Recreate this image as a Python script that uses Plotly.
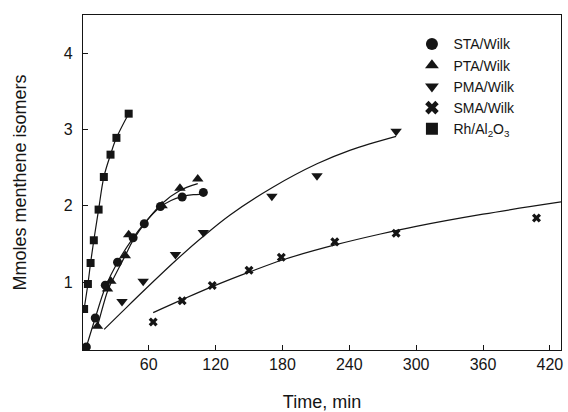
import plotly.graph_objects as go

# ---- data ----
sta_t = [4, 12, 21, 32, 46, 56, 70.5, 90, 109]
sta_v = [0.15, 0.53, 0.96, 1.26, 1.58, 1.765, 1.99, 2.115, 2.175]

pta_t = [14, 23, 26, 39, 42, 72, 88, 104]
pta_v = [0.42, 0.91, 1.01, 1.345, 1.62, 2.0, 2.23, 2.35]

pma_t = [36, 55, 84, 109, 170.5, 211, 282]
pma_v = [0.745, 1.01, 1.36, 1.65, 2.125, 2.395, 2.975]

sma_t = [64, 90, 117, 150, 179, 227, 282, 408]
sma_v = [0.477, 0.756, 0.954, 1.155, 1.325, 1.527, 1.64, 1.84]

rh_t = [2, 5.4, 7.8, 10.7, 15, 19.7, 25.7, 31, 42]
rh_v = [0.647, 0.975, 1.25, 1.548, 1.95, 2.377, 2.67, 2.89, 3.207]

# fitted curves
sta_fit_t = [4, 12, 21, 32, 46, 56, 70, 80, 90, 100, 106]
sta_fit_v = [0.15, 0.53, 0.93, 1.26, 1.58, 1.77, 1.98, 2.07, 2.12, 2.145, 2.15]

pta_fit_t = [14, 23, 26, 39, 46, 58, 72, 88, 104]
pta_fit_v = [0.42, 0.88, 0.98, 1.35, 1.55, 1.80, 2.03, 2.20, 2.29]

pma_fit_t = [20, 36, 55, 84, 109, 133, 171, 211, 241, 282]
pma_fit_v = [0.38, 0.61, 0.88, 1.28, 1.60, 1.88, 2.24, 2.55, 2.73, 2.91]

sma_fit_t = [64, 90, 117, 150, 180, 228, 268, 300, 360, 430]
sma_fit_v = [0.60, 0.77, 0.94, 1.13, 1.29, 1.49, 1.63, 1.73, 1.89, 2.05]

rh_fit_t = rh_t
rh_fit_v = rh_v

names = ["STA/Wilk", "PTA/Wilk", "PMA/Wilk", "SMA/Wilk", "Rh/Al<sub>2</sub>O<sub>3</sub>"]

BLACK = "#151515"
FONT = "Liberation Sans, Arial, sans-serif"

fig = go.Figure()

fits = [(sta_fit_t, sta_fit_v), (pta_fit_t, pta_fit_v), (pma_fit_t, pma_fit_v),
        (sma_fit_t, sma_fit_v), (rh_fit_t, rh_fit_v)]
for ft, fv in fits:
    fig.add_trace(go.Scatter(x=ft, y=fv, mode="lines", showlegend=False,
                             line=dict(color=BLACK, width=1.2, shape="spline", smoothing=1.0),
                             hoverinfo="skip"))

series = [
    (sta_t, sta_v, "circle", 9),
    (pta_t, pta_v, "triangle-up", 10),
    (pma_t, pma_v, "triangle-down", 10),
    (sma_t, sma_v, "x", 8),
    (rh_t, rh_v, "square", 8),
]
for (t, v, sym, sz), nm in zip(series, names):
    fig.add_trace(go.Scatter(x=t, y=v, mode="markers", name=nm,
                             marker=dict(symbol=sym, size=sz, color=BLACK,
                                         line=dict(width=0))))

axis_common = dict(showline=True, linecolor=BLACK, linewidth=1.3, mirror=True,
                   ticks="inside", ticklen=5, tickcolor=BLACK, tickwidth=1,
                   showgrid=False, zeroline=False, automargin=False,
                   tickfont=dict(family=FONT, size=16, color=BLACK))

fig.update_layout(
    width=568, height=412,
    margin=dict(l=83, r=7, t=15, b=62),
    paper_bgcolor="white", plot_bgcolor="white",
    font=dict(family=FONT, color=BLACK),
    xaxis=dict(range=[1, 430], tickmode="linear", tick0=0, dtick=60,
               title=dict(text="Time, min", font=dict(family=FONT, size=18, color=BLACK), standoff=24),
               ticklabelstandoff=0,
               **axis_common),
    yaxis=dict(range=[0.11, 4.5], tickmode="linear", tick0=0, dtick=1,
               title=dict(text="Mmoles menthene isomers", font=dict(family=FONT, size=18, color=BLACK), standoff=32),
               ticklabelstandoff=6,
               **axis_common),
    legend=dict(x=0.685, y=0.96, xanchor="left", yanchor="top",
                font=dict(family=FONT, size=14, color=BLACK),
                bgcolor="rgba(0,0,0,0)", tracegroupgap=0, itemsizing="constant",
                itemwidth=33),
    showlegend=True,
)

fig.write_html("out.html")
